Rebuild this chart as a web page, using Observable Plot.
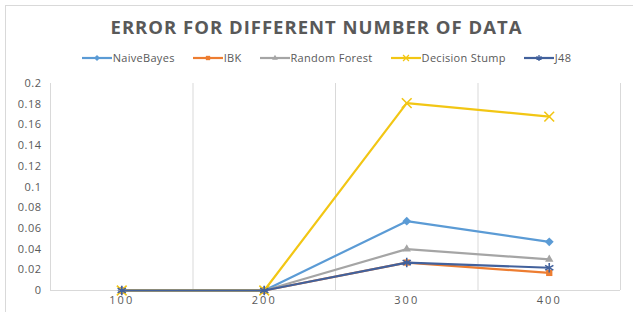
<!DOCTYPE html>
<html>
<head>
<meta charset="utf-8">
<script src="https://cdn.jsdelivr.net/npm/d3@7"></script>
<script src="https://cdn.jsdelivr.net/npm/@observablehq/plot@0.6"></script>
<style>
  html, body { margin: 0; padding: 0; background: #fff; }
  body { width: 633px; height: 312px; overflow: hidden; position: relative; font-family: "Open Sans", sans-serif; }
  #frame { position: absolute; left: 5px; top: 5px; width: 630px; height: 320px; border: 1px solid #d9d9d9; box-sizing: border-box; }
  #title { position: absolute; top: 14px; left: 0; width: 633px; text-align: center; font-size: 18.5px; font-weight: 700; color: #595959; letter-spacing: 1px; }
  #legend { position: absolute; top: 50px; left: 10px; width: 633px; display: flex; justify-content: center; gap: 18px; font-size: 11px; letter-spacing: 0.3px; color: #595959; align-items: center; }
  #legend .item { display: flex; align-items: center; gap: 1px; }
  #chart { position: absolute; left: 0; top: 70px; }
</style>
</head>
<body>
<div id="frame"></div>
<div id="title">ERROR FOR DIFFERENT NUMBER OF DATA</div>
<div id="legend"></div>
<div id="chart"></div>
<script>
const categories = [100, 200, 300, 400];
const seriesNames = ["NaiveBayes", "IBK", "Random Forest", "Decision Stump", "J48"];
const naiveBayes = [0, 0, 0.067, 0.047];
const ibk = [0, 0, 0.027, 0.017];
const randomForest = [0, 0, 0.040, 0.030];
const decisionStump = [0, 0, 0.181, 0.168];
const j48 = [0, 0, 0.027, 0.022];
const yTicks = [0, 0.02, 0.04, 0.06, 0.08, 0.1, 0.12, 0.14, 0.16, 0.18, 0.2];

const colors = ["#5b9bd5", "#ed7d31", "#a5a5a5", "#f2c614", "#42619c"];
const symbols = ["diamond2", "square2", "triangle2", "times", "asterisk"];
const filled = [true, true, true, false, false];
const values = [naiveBayes, ibk, randomForest, decisionStump, j48];

const data = [];
seriesNames.forEach((s, i) => values[i].forEach((v, j) => data.push({series: s, idx: i, x: categories[j], y: v})));

const step = categories[1] - categories[0];
const bounds = [categories[0] - step / 2, ...categories.map(c => c + step / 2)];

const marks = [
  Plot.ruleX(bounds, {stroke: "#d9d9d9", strokeWidth: 1}),
  Plot.ruleY([0], {stroke: "#d9d9d9", strokeWidth: 1})
];
seriesNames.forEach((s, i) => {
  const d = data.filter(r => r.idx === i);
  marks.push(Plot.line(d, {x: "x", y: "y", stroke: colors[i], strokeWidth: 2.2}));
  marks.push(Plot.dot(d, filled[i]
    ? {x: "x", y: "y", symbol: () => symbols[i], fill: colors[i], r: 4}
    : {x: "x", y: "y", symbol: () => symbols[i], stroke: colors[i], strokeWidth: 1.6, r: 4.5}));
});

const chart = Plot.plot({
  width: 633,
  height: 242,
  marginLeft: 50,
  marginRight: 13,
  marginTop: 13,
  marginBottom: 22,
  style: {fontFamily: "Open Sans, sans-serif", fontSize: "10.5px", color: "#595959", background: "transparent"},
  x: {domain: [bounds[0], bounds[bounds.length - 1]], ticks: categories, tickSize: 0, tickPadding: 6, label: null, tickFormat: d => String(d)},
  y: {domain: [0, 0.2], ticks: yTicks, tickSize: 0, tickPadding: 9, label: null, tickFormat: d => String(+d.toFixed(2))},
  symbol: {type: "identity"},
  marks
});
document.getElementById("chart").appendChild(chart);
d3.select(chart).selectAll("[aria-label='x-axis tick label'] text").attr("letter-spacing", "2px").style("font-size", "11px");
d3.select(chart).selectAll("[aria-label='y-axis tick label'] text").attr("letter-spacing", "0.5px").style("font-size", "11px");

// legend
const legend = d3.select("#legend");
seriesNames.forEach((s, i) => {
  const item = legend.append("div").attr("class", "item");
  const svg = item.append("svg").attr("width", 30).attr("height", 10);
  svg.append("line").attr("x1", 0).attr("x2", 30).attr("y1", 5).attr("y2", 5).attr("stroke", colors[i]).attr("stroke-width", 2.2);
  const sym = ({diamond2: d3.symbolDiamond2, square2: d3.symbolSquare2, triangle2: d3.symbolTriangle2, times: d3.symbolTimes, asterisk: d3.symbolAsterisk})[symbols[i]];
  const p = svg.append("path").attr("transform", "translate(15,5)").attr("d", d3.symbol(sym, 24)());
  if (filled[i]) p.attr("fill", colors[i]); else p.attr("fill", "none").attr("stroke", colors[i]).attr("stroke-width", 1.3);
  item.append("span").text(s);
});
</script>
</body>
</html>
